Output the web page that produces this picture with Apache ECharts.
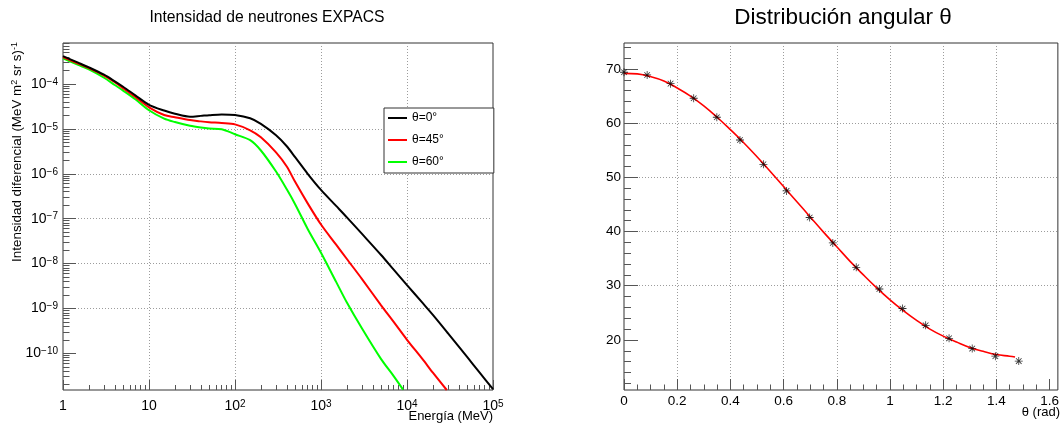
<!DOCTYPE html>
<html>
<head>
<meta charset="utf-8">
<script src="https://cdn.jsdelivr.net/npm/echarts@6/dist/echarts.min.js"></script>
<style>
  html, body { margin: 0; padding: 0; background: #fff; }
  #chart { width: 1062px; height: 425px; }
</style>
</head>
<body>
<div id="chart"></div>
<script>
// ---- EXPACS differential neutron intensity (MeV^-1 m^-2 sr^-1 s^-1) vs energy (MeV) ----
const energyTheta0 = [1, 1.5, 2, 3, 4, 5, 7, 10, 15, 20, 30, 40, 50, 70, 100, 150, 200, 300, 400, 500, 700, 1000, 1500, 2000, 3000, 5000, 7000, 1e4, 1.5e4, 2e4, 3e4, 5e4, 7e4, 1e5];
const fluxTheta0 = [4.17e-4, 2.99e-4, 2.35e-4, 1.61e-4, 1.15e-4, 8.7e-5, 5.51e-5, 3.44e-5, 2.56e-5, 2.18e-5, 1.87e-5, 1.95e-5, 2.02e-5, 2.10e-5, 2.04e-5, 1.72e-5, 1.29e-5, 7.2e-6, 4.1e-6, 2.34e-6, 1.0e-6, 4.37e-7, 1.92e-7, 1.07e-7, 4.57e-8, 1.55e-8, 7.3e-9, 3.31e-9, 1.36e-9, 7.2e-10, 2.79e-10, 8.3e-11, 3.7e-11, 1.58e-11];

const energyTheta45 = [1, 1.5, 2, 3, 4, 5, 7, 10, 15, 20, 30, 40, 50, 70, 100, 150, 200, 300, 400, 500, 700, 1000, 1500, 2000, 3000, 5000, 7000, 1e4, 1.5e4, 2e4, 2.9e4];
const fluxTheta45 = [3.98e-4, 2.86e-4, 2.26e-4, 1.54e-4, 1.10e-4, 8.1e-5, 5.06e-5, 3.02e-5, 2.04e-5, 1.82e-5, 1.57e-5, 1.47e-5, 1.41e-5, 1.35e-5, 1.26e-5, 9.3e-6, 6.5e-6, 3.0e-6, 1.45e-6, 6.6e-7, 2.19e-7, 7.4e-8, 2.63e-8, 1.26e-8, 4.5e-9, 1.17e-9, 5.0e-10, 2.0e-10, 7.6e-11, 3.7e-11, 1.52e-11];

const energyTheta60 = [1, 1.5, 2, 3, 4, 5, 7, 10, 15, 20, 30, 40, 50, 70, 100, 150, 200, 300, 400, 500, 700, 1000, 1500, 2000, 3000, 5000, 7000, 9000];
const fluxTheta60 = [3.72e-4, 2.67e-4, 2.11e-4, 1.38e-4, 9.5e-5, 7.13e-5, 4.51e-5, 2.6e-5, 1.69e-5, 1.42e-5, 1.17e-5, 1.07e-5, 1.02e-5, 9.8e-6, 7.6e-6, 5.6e-6, 3.3e-6, 1.12e-6, 4.5e-7, 2.1e-7, 5.9e-8, 1.74e-8, 3.9e-9, 1.35e-9, 3.55e-10, 7.4e-11, 3.1e-11, 1.55e-11];

const seriesNames = ['θ=0°', 'θ=45°', 'θ=60°'];
const seriesColors = ['#000000', '#ff0000', '#00ff00'];

// log10 decades used on the two logarithmic axes
const energyDecades = [0, 1, 2, 3, 4, 5];
const energyTickLabels = ['{p|1}', '{p|10}', '{b|10}{s|2}', '{b|10}{s|3}', '{b|10}{s|4}', '{b|10}{s|5}'];
const fluxDecades = [-10, -9, -8, -7, -6, -5, -4];
const fluxTickLabels = ['{b|10}{s|−10}', '{b|10}{s|−9}', '{b|10}{s|−8}', '{b|10}{s|−7}', '{b|10}{s|−6}', '{b|10}{s|−5}', '{b|10}{s|−4}'];
const fluxMin = 1.52e-11;
const fluxMax = 8.2e-4;

// ---- Angular distribution: measured rate vs zenith angle (rad) and fitted curve ----
const thetaRad = [0, 0.087, 0.175, 0.262, 0.349, 0.436, 0.524, 0.611, 0.698, 0.785, 0.873, 0.960, 1.047, 1.134, 1.222, 1.309, 1.396, 1.484];
const rateMeasured = [69.4, 68.9, 67.3, 64.6, 61.1, 56.9, 52.4, 47.5, 42.6, 37.9, 33.4, 29.4, 25.8, 22.7, 20.3, 18.4, 17.0, 16.1];
const fitTheta = [0, 0.05, 0.1, 0.15, 0.2, 0.25, 0.3, 0.35, 0.4, 0.45, 0.5, 0.55, 0.6, 0.65, 0.7, 0.75, 0.8, 0.85, 0.9, 0.95, 1.0, 1.05, 1.1, 1.15, 1.2, 1.25, 1.3, 1.35, 1.4, 1.45, 1.47];
const fitRate = [69.2, 69.1, 68.6, 67.8, 66.5, 65.0, 63.2, 61.1, 58.8, 56.4, 53.8, 51.1, 48.3, 45.5, 42.7, 39.9, 37.2, 34.5, 32.0, 29.6, 27.4, 25.4, 23.6, 22.0, 20.7, 19.6, 18.6, 17.9, 17.3, 17.0, 16.85];
const thetaTicks = [0, 0.2, 0.4, 0.6, 0.8, 1, 1.2, 1.4, 1.6];
const thetaTickLabels = ['0', '0.2', '0.4', '0.6', '0.8', '1', '1.2', '1.4', '1.6'];
const rateTicks = [20, 30, 40, 50, 60, 70];
const thetaMin = 0, thetaMax = 1.631;
const rateMin = 10.76, rateMax = 74.8;

const FONT = '"Liberation Sans", Arial, Helvetica, sans-serif';
const TICK_COLOR = '#555';
const GRID_LINE = { show: true, showMinLine: false, showMaxLine: false, lineStyle: { color: '#9c9c9c', type: [1, 2], width: 1 } };

// minor ticks for log axes at 2..9 within each decade
function logMinorTicks(lo, hi) {
  const out = [];
  for (let d = Math.floor(lo); d <= Math.ceil(hi); d++) {
    for (let k = 2; k <= 9; k++) {
      const v = d + Math.log10(k);
      if (v > lo && v < hi) out.push(v);
    }
  }
  return out;
}
function linearMinorTicks(lo, hi, step, major) {
  const out = [];
  const start = Math.ceil(lo / step - 1e-9);
  for (let i = start; i * step < hi; i++) {
    const v = +(i * step).toFixed(6);
    if (v <= lo || v >= hi) continue;
    if (Math.abs(v / major - Math.round(v / major)) < 1e-6) continue;
    out.push(v);
  }
  return out;
}

const fluxLo = Math.log10(fluxMin), fluxHi = Math.log10(fluxMax);

const supRich = {
  p: { fontSize: 14, fontFamily: FONT, color: '#000', lineHeight: 14 },
  b: { fontSize: 14, fontFamily: FONT, color: '#000', lineHeight: 14, verticalAlign: 'bottom' },
  s: { fontSize: 10, fontFamily: FONT, color: '#000', lineHeight: 10, verticalAlign: 'top', padding: [0, 0, 8, 0] }
};

const asterisk = 'path://M-5,-0.5L5,-0.5L5,0.5L-5,0.5Z M-0.5,-5L0.5,-5L0.5,5L-0.5,5Z M-3.15,-3.85L3.85,3.15L3.15,3.85L-3.85,-3.15Z M-3.85,3.15L3.15,-3.85L3.85,-3.15L-3.15,3.85Z';

function toLogPairs(xs, ys) {
  return xs.map((x, i) => [Math.log10(x), Math.log10(ys[i])]);
}

const chart = echarts.init(document.getElementById('chart'), null, { renderer: 'canvas' });

const option = {
  animation: false,
  backgroundColor: '#fff',
  textStyle: { fontFamily: FONT },
  grid: [
    { left: 63, top: 43, width: 430, height: 347, show: true, borderColor: '#333', borderWidth: 1, backgroundColor: 'transparent' },
    { left: 624, top: 43, width: 436, height: 347, show: true, borderColor: '#333', borderWidth: 1, backgroundColor: 'transparent' }
  ],
  xAxis: [
    {
      gridIndex: 0, type: 'value', min: 0, max: 5, splitNumber: 5, position: 'bottom',
      axisLine: { show: false },
      axisTick: { show: true, inside: true, length: 10, customValues: energyDecades, lineStyle: { color: TICK_COLOR } },
      axisLabel: {
        show: true, margin: 9, customValues: energyDecades,
        formatter: (v) => energyTickLabels[energyDecades.indexOf(Math.round(v))],
        rich: supRich
      },
      splitLine: GRID_LINE
    },
    {
      gridIndex: 0, type: 'value', min: 0, max: 5, position: 'bottom',
      axisLine: { show: false }, axisLabel: { show: false }, splitLine: { show: false },
      axisTick: { show: true, inside: true, length: 5, customValues: logMinorTicks(0, 5), lineStyle: { color: TICK_COLOR } }
    },
    {
      gridIndex: 1, type: 'value', min: thetaMin, max: thetaMax, splitNumber: 8, position: 'bottom',
      axisLine: { show: false },
      axisTick: { show: true, inside: true, length: 11, customValues: thetaTicks, lineStyle: { color: TICK_COLOR } },
      axisLabel: {
        show: true, margin: 4, customValues: thetaTicks, fontSize: 13.5, fontFamily: FONT, color: '#000',
        formatter: (v) => thetaTickLabels[thetaTicks.findIndex(t => Math.abs(t - v) < 1e-6)]
      },
      splitLine: GRID_LINE
    },
    {
      gridIndex: 1, type: 'value', min: thetaMin, max: thetaMax, position: 'bottom',
      axisLine: { show: false }, axisLabel: { show: false }, splitLine: { show: false },
      axisTick: { show: true, inside: true, length: 5.5, customValues: linearMinorTicks(thetaMin, thetaMax, 0.05, 0.2), lineStyle: { color: TICK_COLOR } }
    }
  ],
  yAxis: [
    {
      gridIndex: 0, type: 'value', min: fluxLo, max: fluxHi, splitNumber: 8, position: 'left',
      axisLine: { show: false },
      axisTick: { show: true, inside: true, length: 13, customValues: fluxDecades, lineStyle: { color: TICK_COLOR } },
      axisLabel: {
        show: true, margin: 5, customValues: fluxDecades,
        formatter: (v) => fluxTickLabels[fluxDecades.indexOf(Math.round(v))],
        rich: supRich
      },
      splitLine: GRID_LINE
    },
    {
      gridIndex: 0, type: 'value', min: fluxLo, max: fluxHi, position: 'left',
      axisLine: { show: false }, axisLabel: { show: false }, splitLine: { show: false },
      axisTick: { show: true, inside: true, length: 6.5, customValues: logMinorTicks(fluxLo, fluxHi), lineStyle: { color: TICK_COLOR } }
    },
    {
      gridIndex: 1, type: 'value', min: rateMin, max: rateMax, splitNumber: 6, position: 'left',
      axisLine: { show: false },
      axisTick: { show: true, inside: true, length: 14, customValues: rateTicks, lineStyle: { color: TICK_COLOR } },
      axisLabel: { show: true, margin: 3, customValues: rateTicks, fontSize: 13.5, fontFamily: FONT, color: '#000' },
      splitLine: GRID_LINE
    },
    {
      gridIndex: 1, type: 'value', min: rateMin, max: rateMax, position: 'left',
      axisLine: { show: false }, axisLabel: { show: false }, splitLine: { show: false },
      axisTick: { show: true, inside: true, length: 7, customValues: linearMinorTicks(rateMin, rateMax, 2, 10), lineStyle: { color: TICK_COLOR } }
    }
  ],
  legend: {
    data: seriesNames,
    orient: 'vertical', left: 384, top: 108,
    icon: 'rect', itemWidth: 19, itemHeight: 2, itemGap: 10,
    padding: [4, 50, 5, 4],
    backgroundColor: '#fff', borderColor: '#333', borderWidth: 1, borderRadius: 0,
    selectedMode: false,
    textStyle: { fontSize: 12, fontFamily: FONT, color: '#000' }
  },
  series: [
    { name: seriesNames[0], type: 'line', xAxisIndex: 0, yAxisIndex: 0, data: toLogPairs(energyTheta0, fluxTheta0), color: seriesColors[0], symbol: 'none', smooth: 0.3, lineStyle: { width: 2, color: seriesColors[0] }, z: 5 },
    { name: seriesNames[1], type: 'line', xAxisIndex: 0, yAxisIndex: 0, data: toLogPairs(energyTheta45, fluxTheta45), color: seriesColors[1], symbol: 'none', smooth: 0.3, lineStyle: { width: 2, color: seriesColors[1] }, z: 4 },
    { name: seriesNames[2], type: 'line', xAxisIndex: 0, yAxisIndex: 0, data: toLogPairs(energyTheta60, fluxTheta60), color: seriesColors[2], symbol: 'none', smooth: 0.3, lineStyle: { width: 2, color: seriesColors[2] }, z: 3 },
    { name: 'ajuste', type: 'line', xAxisIndex: 2, yAxisIndex: 2, data: fitTheta.map((t, i) => [t, fitRate[i]]), symbol: 'none', smooth: 0.4, lineStyle: { width: 1.6, color: '#ff0000' }, z: 3 },
    { name: 'datos', type: 'scatter', xAxisIndex: 2, yAxisIndex: 2, data: thetaRad.map((t, i) => [t, rateMeasured[i]]), symbol: asterisk, symbolSize: 8, itemStyle: { color: '#000' }, z: 5 }
  ],
  graphic: [
    { type: 'text', x: 267, y: 18, style: { text: 'Intensidad de neutrones EXPACS', fontSize: 15.7, fontFamily: FONT, fill: '#000', align: 'center', verticalAlign: 'middle', textAlign: 'center', textVerticalAlign: 'middle' } },
    { type: 'text', x: 843, y: 18, style: { text: 'Distribución angular θ', fontSize: 22.5, fontFamily: FONT, fill: '#000', align: 'center', verticalAlign: 'middle', textAlign: 'center', textVerticalAlign: 'middle' } },
    { type: 'text', x: 493, y: 416, style: { text: 'Energía (MeV)', fontSize: 13, fontFamily: FONT, fill: '#000', align: 'right', verticalAlign: 'middle', textAlign: 'right', textVerticalAlign: 'middle' } },
    { type: 'text', x: 1060, y: 412, style: { text: 'θ (rad)', fontSize: 13, fontFamily: FONT, fill: '#000', align: 'right', verticalAlign: 'middle', textAlign: 'right', textVerticalAlign: 'middle' } },
    {
      type: 'text', x: 17, y: 42, rotation: Math.PI / 2,
      style: {
        text: '{t|Intensidad diferencial (MeV m}{u|2}{t| sr s)}{u|-1}',
        align: 'right', verticalAlign: 'middle', textAlign: 'right', textVerticalAlign: 'middle',
        rich: {
          t: { fontSize: 13.4, fontFamily: FONT, fill: '#000', color: '#000', lineHeight: 14, verticalAlign: 'bottom' },
          u: { fontSize: 9, fontFamily: FONT, fill: '#000', color: '#000', lineHeight: 9, verticalAlign: 'top', padding: [0, 0, 8, 0] }
        }
      }
    }
  ]
};

chart.setOption(option);
</script>
</body>
</html>
